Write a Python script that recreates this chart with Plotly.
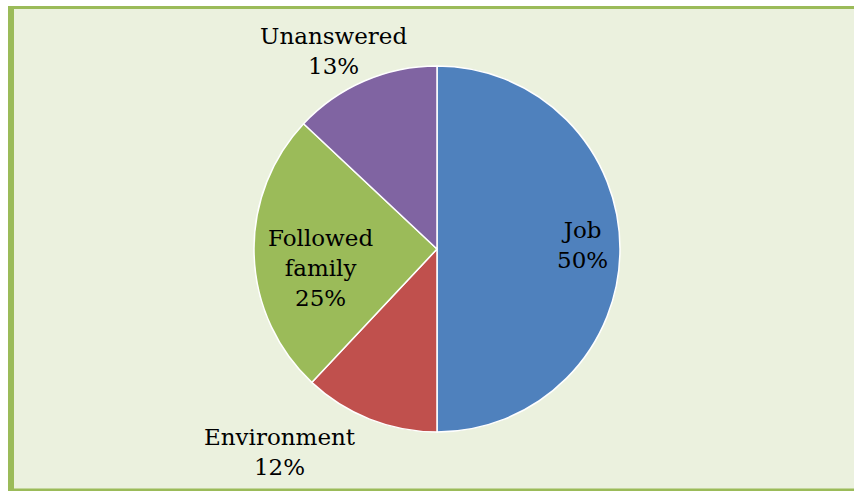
import plotly.graph_objects as go

categories = ["Job", "Environment", "Followed family", "Unanswered"]
values = [50, 12, 25, 13]
colors = ["#4F81BD", "#C0504D", "#9BBB59", "#8064A2"]
label_lines = ["Job", "Environment", "Followed<br>family", "Unanswered"]

W, H = 854, 491
cx, cy, r = 437, 249, 183

fig = go.Figure()
fig.add_trace(go.Pie(
    labels=categories, values=values, sort=False, direction="clockwise",
    rotation=0, marker=dict(colors=colors, line=dict(color="white", width=1.5)),
    textinfo="none", hoverinfo="label+percent", showlegend=False,
    domain=dict(x=[(cx - r) / W, (cx + r) / W], y=[1 - (cy + r) / H, 1 - (cy - r) / H]),
))

label_pos = [(582, 245), (280, 452), (320, 268), (333, 51)]
total = sum(values)
annotations = []
for name, v, (px, py) in zip(label_lines, values, label_pos):
    annotations.append(dict(
        x=px / W, y=1 - py / H, xref="paper", yref="paper",
        text=f"{name}<br>{round(100 * v / total)}%", showarrow=False,
        font=dict(family="DejaVu Serif", size=23, color="black"),
        xanchor="center", yanchor="middle", align="center",
    ))

green = "#9BBB59"
bg = "#EBF1DE"
shapes = [
    dict(type="rect", xref="paper", yref="paper", x0=0, x1=8 / W, y0=0, y1=1,
         fillcolor="white", line=dict(width=0), layer="below"),
    dict(type="rect", xref="paper", yref="paper", x0=0, x1=1, y0=1 - 6 / H, y1=1,
         fillcolor="white", line=dict(width=0), layer="below"),
    dict(type="rect", xref="paper", yref="paper", x0=8 / W, x1=14 / W, y0=0, y1=1 - 6 / H,
         fillcolor=green, line=dict(width=0), layer="below"),
    dict(type="rect", xref="paper", yref="paper", x0=8 / W, x1=1, y0=1 - 9 / H, y1=1 - 6 / H,
         fillcolor=green, line=dict(width=0), layer="below"),
    dict(type="rect", xref="paper", yref="paper", x0=8 / W, x1=1, y0=0, y1=2.5 / H,
         fillcolor=green, line=dict(width=0), layer="below"),
]

fig.update_layout(
    width=W, height=H, margin=dict(l=0, r=0, t=0, b=0),
    paper_bgcolor=bg, plot_bgcolor=bg,
    annotations=annotations, shapes=shapes,
)
fig.write_html("out.html")
